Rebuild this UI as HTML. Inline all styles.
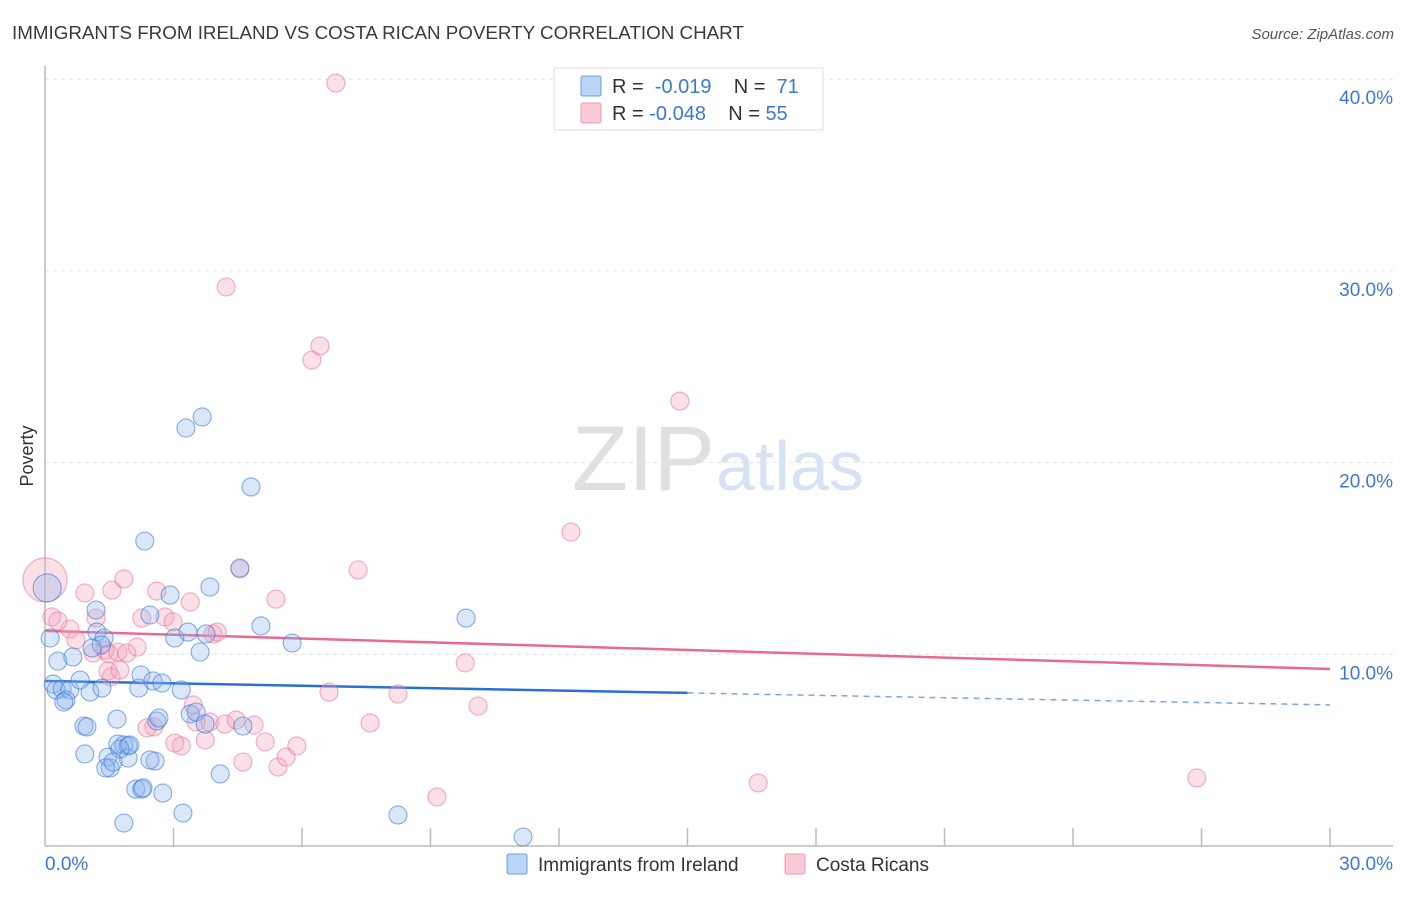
<!DOCTYPE html>
<html><head><meta charset="utf-8"><style>
body{margin:0;background:#fff;font-family:"Liberation Sans",sans-serif}
svg text{font-family:"Liberation Sans",sans-serif}
</style></head><body>
<svg id="chart" width="1406" height="892" xmlns="http://www.w3.org/2000/svg">
<text x="12" y="39" font-size="18.8" fill="#3a3a3a">IMMIGRANTS FROM IRELAND VS COSTA RICAN POVERTY CORRELATION CHART</text>
<text x="1394" y="39" font-size="15" fill="#555" font-style="italic" text-anchor="end">Source: ZipAtlas.com</text>
<text x="715" y="490" font-size="92" fill="#e0e0e0" text-anchor="end" font-family="Liberation Serif">ZIP</text>
<text x="716" y="490" font-size="70" fill="#d6e3f5">atlas</text>
<text x="33" y="456" font-size="18" fill="#333" text-anchor="middle" transform="rotate(-90 33 456)">Poverty</text>
<g id="grid"></g><g id="axes"></g><g id="trend"></g><g id="pts"></g>
<g>
<rect x="554" y="68" width="269" height="62" fill="#fff" stroke="#ddd"/>
<rect x="581" y="76" width="20" height="20" fill="#bcd4f5" stroke="#6a9be0" rx="2"/>
<text x="612" y="93" font-size="20" fill="#333" xml:space="preserve">R =  <tspan fill="#3a78d4">-0.019</tspan>    N =  <tspan fill="#3a78d4">71</tspan></text>
<rect x="581" y="103" width="20" height="20" fill="#f9cbd7" stroke="#eb98ae" rx="2"/>
<text x="612" y="120" font-size="20" fill="#333" xml:space="preserve">R = <tspan fill="#3a78d4">-0.048</tspan>    N = <tspan fill="#3a78d4">55</tspan></text>
</g>
<g>
<rect x="507" y="854" width="20" height="20" fill="#bcd4f5" stroke="#6a9be0" rx="2"/>
<text x="538" y="871" font-size="19" fill="#333">Immigrants from Ireland</text>
<rect x="785" y="854" width="20" height="20" fill="#f9cbd7" stroke="#eb98ae" rx="2"/>
<text x="816" y="871" font-size="19" fill="#333">Costa Ricans</text>
</g>
</svg>
<script>
const yTicks=[10,20,30,40];
const yTickLabels=["10.0%","20.0%","30.0%","40.0%"];
const xTickLabels=["0.0%","30.0%"];
const blueX=[0.05,0.12,1.19,0.19,0.30,0.65,0.26,0.40,0.58,0.49,0.44,0.82,1.05,1.33,1.21,1.38,1.31,1.10,0.91,0.98,0.93,1.47,1.52,1.42,1.70,1.84,1.94,1.68,1.94,2.12,2.26,2.75,1.84,2.33,2.45,2.92,3.03,3.34,3.62,3.29,3.67,4.81,4.55,3.85,3.76,5.04,5.77,9.83,2.19,2.24,2.52,2.73,3.18,2.61,2.66,3.39,3.53,3.74,4.62,2.57,4.09,3.22,8.24,11.16,2.45,2.29,1.75,1.59,1.98];
const blueY=[13.46,10.85,12.31,8.45,9.65,9.86,8.14,8.19,8.14,7.62,7.51,8.66,8.03,8.24,11.16,10.85,10.49,10.33,6.26,6.21,4.80,4.64,4.07,4.07,5.32,5.27,5.22,6.62,4.59,2.97,2.97,2.76,1.20,15.91,12.05,13.09,10.85,11.16,10.12,21.80,22.38,18.73,14.50,13.51,11.06,11.48,10.59,11.89,8.24,8.92,8.61,8.50,8.14,6.52,6.68,6.89,6.99,6.36,6.26,4.43,3.76,1.72,1.62,0.47,4.49,3.03,5.06,4.38,5.27];
const pinkX=[0.0,0.16,0.58,0.30,0.72,0.93,1.19,1.56,1.84,1.40,1.49,1.70,1.91,2.15,1.12,1.54,2.61,2.80,2.26,2.99,3.39,3.92,4.02,1.47,1.75,2.54,2.38,3.18,3.03,3.46,3.53,3.74,3.85,4.20,4.46,4.88,5.14,5.44,4.62,5.63,5.88,5.39,4.55,6.63,7.31,7.59,8.24,9.15,9.81,10.11,12.28,14.82,16.65,26.89,4.23,6.23,6.42,6.79];
const pinkY=[13.88,11.95,11.32,11.74,10.75,13.20,11.89,13.35,13.93,10.22,10.02,10.12,10.07,10.38,10.07,8.82,13.30,11.95,11.89,11.69,12.73,11.06,11.16,9.13,9.18,6.21,6.16,5.22,5.37,7.36,6.47,5.53,6.47,6.36,6.57,6.31,5.43,4.12,4.38,4.64,5.22,12.88,14.45,8.03,14.40,6.42,7.93,2.56,9.55,7.30,16.38,23.21,3.29,3.55,29.16,25.35,26.08,39.80];
const blueTrend=[8.61,7.36];
const pinkTrend=[11.22,9.23];
const NS="http://www.w3.org/2000/svg";
const X0=45,X1=1330,Y0=846,YPER=19.17;
const sx=v=>X0+(v/30)*(X1-X0);
const sy=v=>Y0-v*YPER;
function mk(tag,attrs,parent){const e=document.createElementNS(NS,tag);for(const k in attrs)e.setAttribute(k,attrs[k]);parent.appendChild(e);return e;}
const grid=document.getElementById('grid'),axes=document.getElementById('axes');
yTicks.forEach((t,i)=>{
  const l=mk('line',{x1:X0,x2:1393,y1:sy(t),y2:sy(t),stroke:'#e2e2e2','stroke-dasharray':'4,4'},grid);
  
  
  const tx=mk('text',{x:1393,y:sy(t)+25,'font-size':19,fill:'#3a78d4','text-anchor':'end'},axes);
  tx.textContent=yTickLabels[i];
  
  
});
const ya=mk('line',{x1:X0,x2:X0,y1:66,y2:Y0,stroke:'#bbb','stroke-width':1.5},axes);


const xa=mk('line',{x1:X0,x2:1393,y1:Y0,y2:Y0,stroke:'#bbb','stroke-width':1.5},axes);


for(let i=1;i<=10;i++){
  const t=mk('line',{x1:sx(i*3),x2:sx(i*3),y1:Y0,y2:Y0-18,stroke:'#bbb','stroke-width':1.5},axes);
  
  
}
const xl0=mk('text',{x:45,y:870,'font-size':19,fill:'#3a78d4'},axes);xl0.textContent=xTickLabels[0];


const xl1=mk('text',{x:1393,y:870,'font-size':19,fill:'#3a78d4','text-anchor':'end'},axes);xl1.textContent=xTickLabels[1];


const pts=document.getElementById('pts');
pinkX.forEach((x,i)=>{
  const c=mk('circle',{cx:sx(x),cy:sy(pinkY[i]),r:i===0?22:9,fill:'rgba(244,160,185,0.32)',stroke:'rgba(232,120,155,0.6)','stroke-width':1.1},pts);
  
  
});
blueX.forEach((x,i)=>{
  const c=mk('circle',{cx:sx(x),cy:sy(blueY[i]),r:i===0?14:9,fill:'rgba(140,180,235,0.32)',stroke:'rgba(60,120,215,0.6)','stroke-width':1.1},pts);
  
  
});
const tr=document.getElementById('trend');
const bm=blueTrend[0]+(blueTrend[1]-blueTrend[0])*(15/30);
const b1=mk('line',{x1:sx(0),y1:sy(blueTrend[0]),x2:sx(15),y2:sy(bm),stroke:'#2a6fd6','stroke-width':2.5},tr);


const b2=mk('line',{x1:sx(15),y1:sy(bm),x2:sx(30),y2:sy(blueTrend[1]),stroke:'#7fa6e0','stroke-width':1.5,'stroke-dasharray':'6,5'},tr);


const p1=mk('line',{x1:sx(0),y1:sy(pinkTrend[0]),x2:sx(30),y2:sy(pinkTrend[1]),stroke:'#e86a94','stroke-width':2.5},tr);


</script>
</body></html>
